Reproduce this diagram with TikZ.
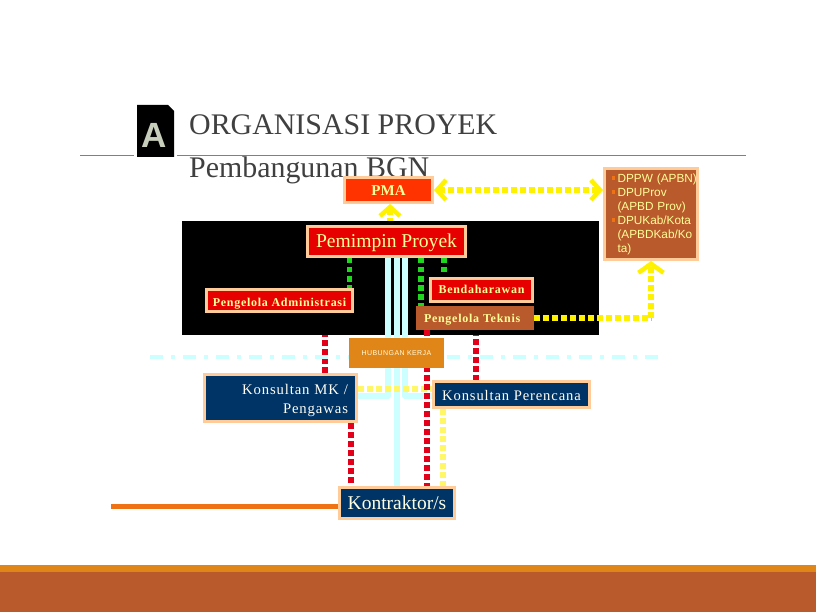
\documentclass[tikz,border=0pt]{standalone}
\usepackage{fontspec}
\setmainfont{Liberation Serif}
\setsansfont{Liberation Sans}
\newfontfamily\spacedfont{Liberation Serif}[LetterSpace=6]
\newfontfamily\spacedsans{Liberation Sans}[LetterSpace=6]
\usetikzlibrary{arrows.meta}
\pgfdeclarelayer{back}
\pgfdeclarelayer{panel}
\pgfdeclarelayer{links}
\pgfsetlayers{back,panel,links,main}
\definecolor{peach}{HTML}{FFCC99}
\definecolor{redbox}{HTML}{E60000}
\definecolor{pmared}{HTML}{FF3300}
\definecolor{rust}{HTML}{B85A2B}
\definecolor{navybox}{HTML}{003366}
\definecolor{amber}{HTML}{E08518}
\definecolor{cream}{HTML}{FFFF99}
\definecolor{paleblue}{HTML}{CCFFFF}
\definecolor{linered}{HTML}{E3001B}
\definecolor{linegreen}{HTML}{1FD61F}
\definecolor{lettergrey}{HTML}{C8CEBC}
\definecolor{lineorange}{HTML}{EF7315}
\newcommand{\fundbullet}{\hspace{7.5pt}\textcolor{lineorange}{\raisebox{2pt}{\rule{3pt}{4pt}}}\hspace{2.5pt}}
\tikzset{
  barb/.tip={Straight Barb[length=9pt,width=20pt,line width=4.5pt]},
  widebarb/.tip={Straight Barb[length=9pt,width=25pt,line width=4.5pt]},
  orgbox/.style={draw=peach, line width=3pt, inner sep=0pt},
  redrole/.style={orgbox, fill=redbox, text=cream},
  navyrole/.style={orgbox, fill=navybox, text=white!90!cream},
  greenlink/.style={linegreen, line width=5.5pt, dash pattern=on 5.5pt off 3.5pt},
  redlink/.style={linered, line width=5.5pt, dash pattern=on 6pt off 3pt},
  yellowlink/.style={yellow, line width=5.5pt, dash pattern=on 5.5pt off 3.5pt},
  palelink/.style={white!40!yellow, line width=5.5pt, dash pattern=on 5.5pt off 3.5pt},
  bluelink/.style={paleblue, line width=5.5pt, line join=round}
}
\begin{document}
\begin{tikzpicture}[x=1pt, y=-1pt]
  \useasboundingbox (0,0) rectangle (816,612);
  % Title
  \node[anchor=base west, inner sep=0pt, text=black!75, font=\fontsize{29.9}{32}\selectfont] (title) at (189,134.5) {ORGANISASI PROYEK};
  \node[anchor=base west, inner sep=0pt, text=black!75, font=\fontsize{29.9}{32}\selectfont] (subtitle) at (189,177.5) {Pembangunan BGN};
  \draw[black!50] (80,155.5) -- (134,155.5);
  \draw[black!50] (177,155.5) -- (746,155.5);
  \fill[black] (137,105) -- (168,105) -- (174,111) -- (174,157) -- (137,157) -- cycle;
  \node[text=lettergrey, font=\sffamily\bfseries\fontsize{35}{35}\selectfont, inner sep=0pt] (letter) at (154,135.5) {A};
  % Bottom bands
  \fill[amber] (0,565) rectangle (816,572);
  \fill[rust] (0,572) rectangle (816,612);
  % Boxes
  \node[orgbox, fill=pmared, text=cream, minimum width=88pt, minimum height=25pt, text height=11pt, text depth=0pt, font=\bfseries\fontsize{15}{17}\selectfont] (pma) at (388.5,190) {PMA};
  \node[orgbox, fill=rust, text=cream, minimum width=93pt, minimum height=91pt, text width=93pt, align=left, font=\sffamily\fontsize{11.8}{14}\selectfont] (funding) at (651,214)
    {\fundbullet DPPW (APBN)\\
     \fundbullet DPUProv\\
     \hspace{13pt}(APBD Prov)\\
     \fundbullet DPUKab/Kota\\
     \hspace{13pt}(APBDKab/Ko\\
     \hspace{13pt}ta)};
  \node[redrole, minimum width=158pt, minimum height=30pt, text height=13pt, text depth=0pt, font=\fontsize{19.6}{21}\selectfont] (pemimpin) at (386.5,241.5) {Pemimpin Proyek};
  \node[redrole, minimum width=146pt, minimum height=22pt, text height=11pt, text depth=0pt, font=\spacedfont\bfseries\fontsize{12}{14}\selectfont] (admin) at (279.5,300.5) {Pengelola Administrasi};
  \node[redrole, minimum width=102pt, minimum height=23pt, text height=8pt, text depth=0pt, font=\spacedfont\bfseries\fontsize{12}{14}\selectfont] (benda) at (481.5,290) {Bendaharawan};
  \node[fill=rust, text=cream, inner sep=0pt, minimum width=118pt, minimum height=24pt, text height=9.4pt, text depth=0pt, text width=102pt, align=left, font=\spacedfont\bfseries\fontsize{12}{14}\selectfont] (teknis) at (475,318) {Pengelola Teknis};
  \node[fill=amber, text=white!70!cream, inner sep=0pt, minimum width=95pt, minimum height=30pt, font=\spacedsans\fontsize{7}{8}\selectfont] (kerja) at (396.5,353) {HUBUNGAN KERJA};
  \node[navyrole, minimum width=152pt, minimum height=47pt, text width=135pt, align=right, font=\spacedfont\fontsize{14.7}{19}\selectfont] (mk) at (280.5,398) {\rule{0pt}{16pt}Konsultan MK /\\Pengawas};
  \node[navyrole, minimum width=156pt, minimum height=26pt, text height=12pt, text depth=0pt, font=\spacedfont\fontsize{14.6}{16}\selectfont] (perencana) at (511.5,394.5) {Konsultan Perencana};
  \node[navyrole, minimum width=115pt, minimum height=31pt, text=white!70!cream, font=\fontsize{19.5}{21}\selectfont] (kontraktor) at (397,503) {Kontraktor/s};
  \coordinate (leftend) at (111,506);
  % Hidden behind the black panel
  \begin{pgfonlayer}{back}
    \draw[yellowlink, barb-] (390,0 |- pma.south) -- (390,0 |- pemimpin.north);
    \draw[redlink] (325,0 |- admin.south) -- (325,0 |- mk.north);
    \draw[redlink] (476,0 |- teknis.south) -- (476,0 |- perencana.north);
  \end{pgfonlayer}
  \begin{pgfonlayer}{panel}
    \fill[black] (182,221) rectangle (599,334.5);
    \draw[paleblue, line width=4pt, dash pattern=on 13pt off 8pt on 4pt off 8pt] (150,356.5) -- (660,356.5);
  \end{pgfonlayer}
  % Links
  \begin{pgfonlayer}{links}
    \foreach \x/\target in {349.5/admin,421/teknis} {
      \draw[greenlink] (\x,0 |- pemimpin.south) -- (\x,0 |- \target.north);
    }
    \draw[greenlink, shorten >=4pt] (444,0 |- pemimpin.south) -- (444,0 |- benda.north);
    \draw[bluelink] (388,0 |- pemimpin.south) |- (mk.east |- 0,396);
    \draw[bluelink] (405,0 |- pemimpin.south) |- (perencana.west |- 0,396);
    \draw[bluelink] (kontraktor.north |- pemimpin.south) -- (kontraktor.north);
    \draw[palelink] (mk.east |- 0,389) -- (perencana.west |- 0,389);
    \draw[palelink] (443,0 |- perencana.south) -- (443,0 |- kontraktor.north);
    \draw[redlink] (427,0 |- teknis.south) -- (427,0 |- kontraktor.north);
    \draw[redlink] (351,0 |- mk.south) -- (351,0 |- kontraktor.north);
    \draw[yellowlink, barb-barb] (pma.east) -- (funding.west |- pma.east);
    \draw[black!25, line width=5pt, dash pattern=on 5.5pt off 3.5pt, xshift=1pt, yshift=-2pt] (teknis.east) -- (651,0 |- teknis.east);
    \draw[yellowlink, -widebarb] (teknis.east) -| (funding.south);
    \draw[lineorange, line width=5pt] (leftend) -- (kontraktor.west |- leftend);
  \end{pgfonlayer}
\end{tikzpicture}
\end{document}
